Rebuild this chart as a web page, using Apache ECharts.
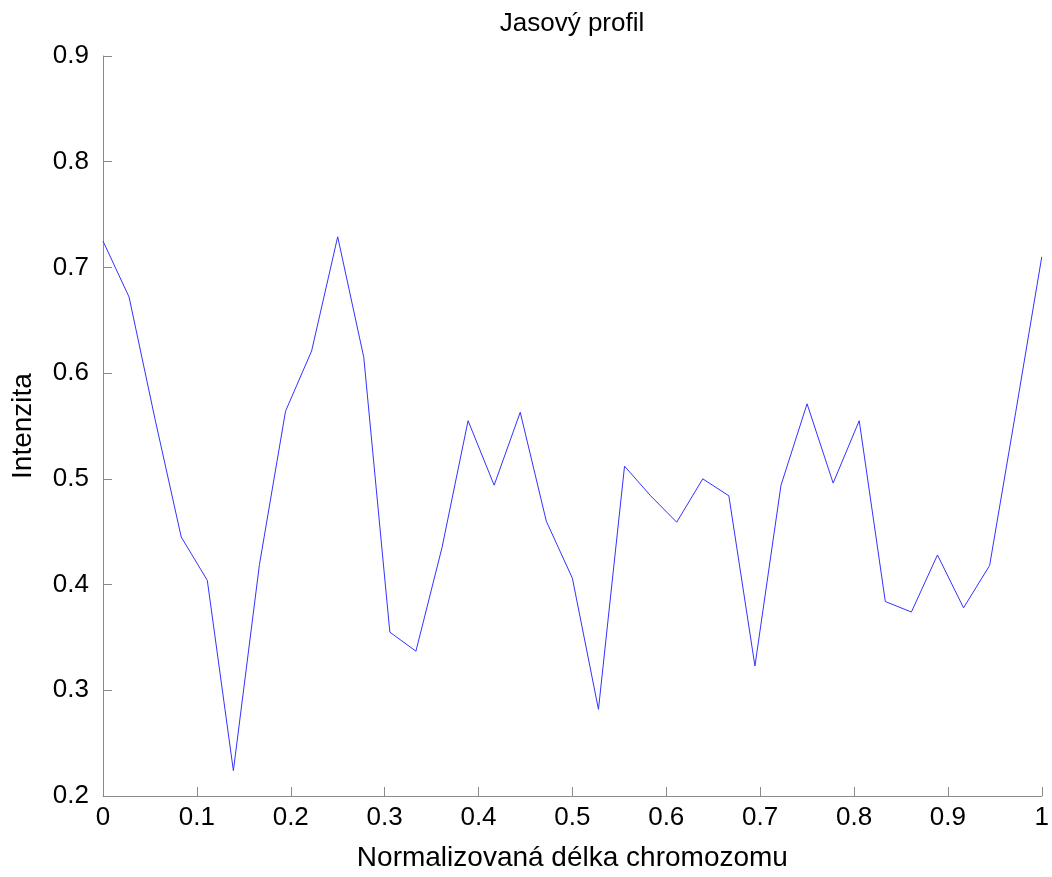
<!DOCTYPE html>
<html>
<head>
<meta charset="utf-8">
<script src="https://cdn.jsdelivr.net/npm/echarts@6/dist/echarts.min.js"></script>
<style>
html,body{margin:0;padding:0;background:#fff;}
#chart{width:1052px;height:877px;}
</style>
</head>
<body>
<div id="chart"></div>
<script>
const titleText = 'Jasový profil';
const xName = 'Normalizovaná délka chromozomu';
const yName = 'Intenzita';
const xTicks = [0, 0.1, 0.2, 0.3, 0.4, 0.5, 0.6, 0.7, 0.8, 0.9, 1];
const yTicks = [0.2, 0.3, 0.4, 0.5, 0.6, 0.7, 0.8, 0.9];
const intensity = [
  0.725, 0.672, 0.556, 0.445, 0.404, 0.224, 0.419, 0.564, 0.621, 0.729,
  0.615, 0.355, 0.337, 0.435, 0.555, 0.494, 0.563, 0.460, 0.406, 0.282,
  0.512, 0.484, 0.459, 0.500, 0.484, 0.323, 0.494, 0.571, 0.496, 0.555,
  0.384, 0.374, 0.428, 0.378, 0.418, 0.563, 0.710
];
const positions = intensity.map((_, i) => i / (intensity.length - 1));
const seriesData = positions.map((x, i) => [x, intensity[i]]);

const font = '"Liberation Sans", Arial, Helvetica, sans-serif';
const axisGray = '#8a8a8a';

const chart = echarts.init(document.getElementById('chart'), null, {renderer: 'canvas'});
chart.setOption({
  animation: false,
  backgroundColor: '#ffffff',
  title: {
    text: titleText,
    left: 567,
    textAlign: 'center',
    top: 6,
    textStyle: {fontFamily: font, fontSize: 26, fontWeight: 'normal', color: '#000'}
  },
  grid: {left: 103, right: 10, top: 56, bottom: 80},
  xAxis: {
    type: 'value',
    min: xTicks[0],
    max: xTicks[xTicks.length - 1],
    interval: 0.1,
    name: xName,
    nameLocation: 'middle',
    nameGap: 48,
    nameTextStyle: {fontFamily: font, fontSize: 28, color: '#000'},
    axisLine: {show: true, lineStyle: {color: axisGray, width: 1}},
    axisTick: {show: true, inside: true, length: 9, lineStyle: {color: axisGray}},
    axisLabel: {fontFamily: font, fontSize: 26, color: '#000', margin: 9,
      formatter: v => String(Math.round(v * 10) / 10)},
    splitLine: {show: false}
  },
  yAxis: {
    type: 'value',
    min: yTicks[0],
    max: yTicks[yTicks.length - 1],
    interval: 0.1,
    name: yName,
    nameLocation: 'middle',
    nameGap: 66,
    nameRotate: 90,
    nameTextStyle: {fontFamily: font, fontSize: 28, color: '#000'},
    axisLine: {show: true, lineStyle: {color: axisGray, width: 1}},
    axisTick: {show: true, inside: true, length: 9, lineStyle: {color: axisGray}},
    axisLabel: {fontFamily: font, fontSize: 26, color: '#000', margin: 14,
      formatter: v => (Math.round(v * 10) / 10).toFixed(1)},
    splitLine: {show: false}
  },
  series: [{
    type: 'line',
    data: seriesData,
    showSymbol: false,
    symbol: 'none',
    lineStyle: {color: '#3333ff', width: 1},
    itemStyle: {color: '#3333ff'}
  }]
});
</script>
</body>
</html>
